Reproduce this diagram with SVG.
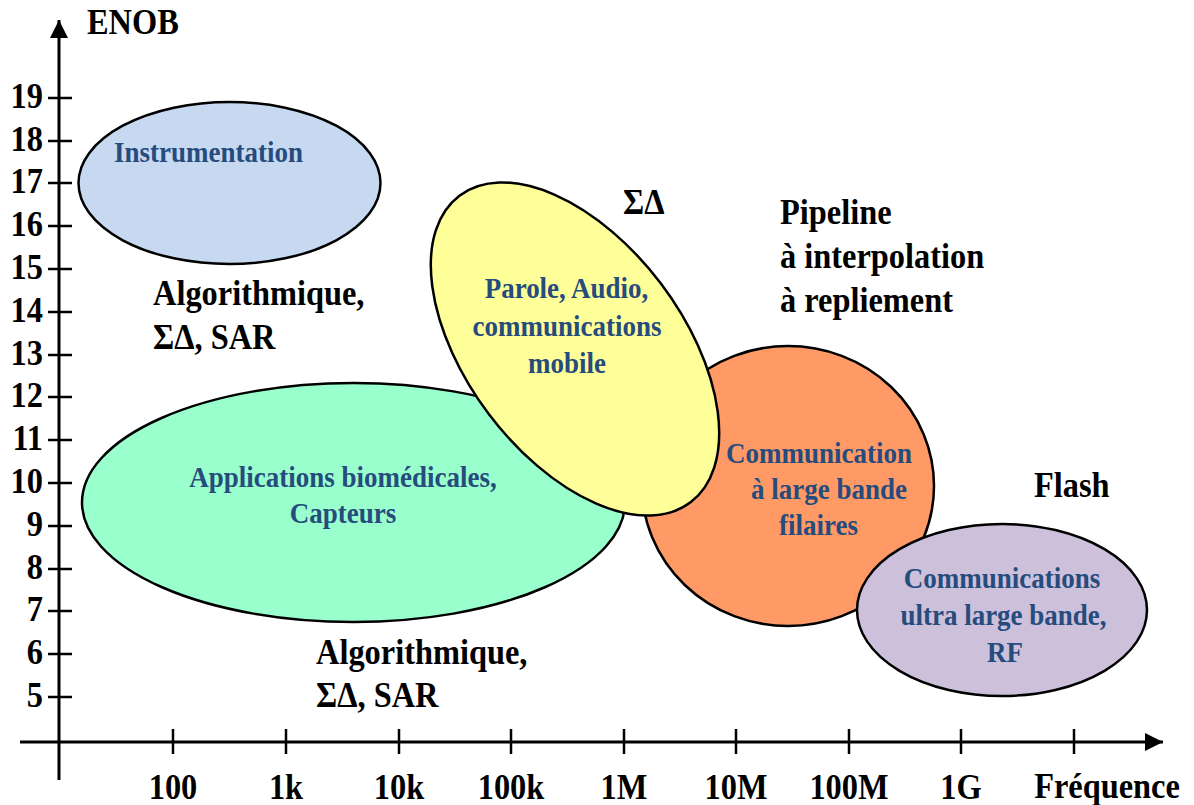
<svg xmlns="http://www.w3.org/2000/svg" width="1194" height="805" viewBox="0 0 1194 805">
  <style>
    text { font-family: "Liberation Serif", "Times New Roman", serif; font-weight: bold; }
    .lbl { font-size: 36px; fill: #000; }
    .num { font-size: 36px; fill: #000; text-anchor: end; }
    .xnum { font-size: 36px; fill: #000; text-anchor: middle; }
    .app { font-size: 30px; fill: #264b7d; text-anchor: middle; }
    .shape { stroke: #000; stroke-width: 2.5; }
    .axis { stroke: #000; stroke-width: 3; fill: none; }
    .tick { stroke: #000; stroke-width: 2.5; }
  </style>
  <defs>
    <marker id="arrow" viewBox="0 0 10 10" refX="10" refY="5" markerWidth="6" markerHeight="6" markerUnits="strokeWidth" orient="auto">
      <path d="M0,0 L10,5 L0,10 z" fill="#000"/>
    </marker>
  </defs>
  <rect width="1194" height="805" fill="#fff"/>

  <!-- axes, ticks and scale labels -->
  <g id="axes">
    <line class="axis" x1="59" y1="780" x2="59" y2="20" marker-end="url(#arrow)"/>
    <line class="axis" x1="20" y1="742" x2="1163" y2="742" marker-end="url(#arrow)"/>
    <g class="tick">
      <line x1="48" y1="98" x2="72" y2="98"/>
      <line x1="48" y1="141" x2="72" y2="141"/>
      <line x1="48" y1="183" x2="72" y2="183"/>
      <line x1="48" y1="226" x2="72" y2="226"/>
      <line x1="48" y1="269" x2="72" y2="269"/>
      <line x1="48" y1="312" x2="72" y2="312"/>
      <line x1="48" y1="355" x2="72" y2="355"/>
      <line x1="48" y1="397" x2="72" y2="397"/>
      <line x1="48" y1="440" x2="72" y2="440"/>
      <line x1="48" y1="483" x2="72" y2="483"/>
      <line x1="48" y1="526" x2="72" y2="526"/>
      <line x1="48" y1="569" x2="72" y2="569"/>
      <line x1="48" y1="611" x2="72" y2="611"/>
      <line x1="48" y1="654" x2="72" y2="654"/>
      <line x1="48" y1="697" x2="72" y2="697"/>
      <line x1="173" y1="729" x2="173" y2="754"/>
      <line x1="286" y1="729" x2="286" y2="754"/>
      <line x1="399" y1="729" x2="399" y2="754"/>
      <line x1="511" y1="729" x2="511" y2="754"/>
      <line x1="624" y1="729" x2="624" y2="754"/>
      <line x1="736" y1="729" x2="736" y2="754"/>
      <line x1="849" y1="729" x2="849" y2="754"/>
      <line x1="961" y1="729" x2="961" y2="754"/>
      <line x1="1074" y1="729" x2="1074" y2="754"/>
    </g>
    <text class="lbl" transform="translate(87 34) scale(.9 1)">ENOB</text>
    <text class="num" transform="translate(43 108) scale(.9 1)">19</text>
    <text class="num" transform="translate(43 151) scale(.9 1)">18</text>
    <text class="num" transform="translate(43 193) scale(.9 1)">17</text>
    <text class="num" transform="translate(43 236) scale(.9 1)">16</text>
    <text class="num" transform="translate(43 279) scale(.9 1)">15</text>
    <text class="num" transform="translate(43 322) scale(.9 1)">14</text>
    <text class="num" transform="translate(43 365) scale(.9 1)">13</text>
    <text class="num" transform="translate(43 407) scale(.9 1)">12</text>
    <text class="num" transform="translate(43 450) scale(.9 1)">11</text>
    <text class="num" transform="translate(43 493) scale(.9 1)">10</text>
    <text class="num" transform="translate(43 536) scale(.9 1)">9</text>
    <text class="num" transform="translate(43 579) scale(.9 1)">8</text>
    <text class="num" transform="translate(43 621) scale(.9 1)">7</text>
    <text class="num" transform="translate(43 664) scale(.9 1)">6</text>
    <text class="num" transform="translate(43 707) scale(.9 1)">5</text>
    <text class="xnum" transform="translate(173 799) scale(.9 1)">100</text>
    <text class="xnum" transform="translate(286 799) scale(.9 1)">1k</text>
    <text class="xnum" transform="translate(399 799) scale(.9 1)">10k</text>
    <text class="xnum" transform="translate(511 799) scale(.9 1)">100k</text>
    <text class="xnum" transform="translate(624 799) scale(.9 1)">1M</text>
    <text class="xnum" transform="translate(736 799) scale(.9 1)">10M</text>
    <text class="xnum" transform="translate(849 799) scale(.9 1)">100M</text>
    <text class="xnum" transform="translate(961 799) scale(.9 1)">1G</text>
    <text class="xnum" transform="translate(1107 798) scale(.9 1)">Fréquence</text>
  </g>

  <!-- application areas -->
  <g id="instrumentation">
    <ellipse class="shape" cx="229.5" cy="183" rx="151" ry="81" fill="#c6d9f1"/>
    <text class="app" transform="translate(208.5 162) scale(.9 1)">Instrumentation</text>
  </g>
  <g id="biomedical">
    <ellipse class="shape" cx="353.5" cy="502.5" rx="271.5" ry="119.5" fill="#99ffcc"/>
    <text class="app" transform="translate(343 487) scale(.9 1)">Applications biomédicales,</text>
    <text class="app" transform="translate(343 523) scale(.9 1)">Capteurs</text>
  </g>
  <g id="wired-broadband">
    <ellipse class="shape" cx="788" cy="486" rx="146" ry="140" fill="#ff9966"/>
    <text class="app" transform="translate(819 463) scale(.9 1)">Communication</text>
    <text class="app" transform="translate(829 499) scale(.9 1)">à large bande</text>
    <text class="app" transform="translate(818.5 535) scale(.9 1)">filaires</text>
  </g>
  <g id="audio-mobile">
    <ellipse class="shape" cx="0" cy="0" rx="192" ry="108" fill="#ffff99" transform="translate(575 349) rotate(53)"/>
    <text class="app" transform="translate(566.5 298) scale(.9 1)">Parole, Audio,</text>
    <text class="app" transform="translate(567 336) scale(.9 1)">communications</text>
    <text class="app" transform="translate(567 373) scale(.9 1)">mobile</text>
  </g>
  <g id="uwb-rf">
    <ellipse class="shape" cx="1002" cy="610" rx="145" ry="86" fill="#ccc0da"/>
    <text class="app" transform="translate(1002 588) scale(.9 1)">Communications</text>
    <text class="app" transform="translate(1003.5 625) scale(.9 1)">ultra large bande,</text>
    <text class="app" transform="translate(1005 662) scale(.9 1)">RF</text>
  </g>

  <!-- converter architectures -->
  <g id="arch-high-res">
    <text class="lbl" transform="translate(153 305) scale(.9 1)">Algorithmique,</text>
    <text class="lbl" transform="translate(153 349) scale(.9 1)">ΣΔ, SAR</text>
  </g>
  <g id="arch-low-res">
    <text class="lbl" transform="translate(316 664) scale(.9 1)">Algorithmique,</text>
    <text class="lbl" transform="translate(316 707) scale(.9 1)">ΣΔ, SAR</text>
  </g>
  <g id="arch-sigma-delta">
    <text class="lbl" transform="translate(623 214) scale(.9 1)">ΣΔ</text>
  </g>
  <g id="arch-pipeline">
    <text class="lbl" transform="translate(780 224) scale(.9 1)">Pipeline</text>
    <text class="lbl" transform="translate(780 268) scale(.9 1)">à interpolation</text>
    <text class="lbl" transform="translate(780 312) scale(.9 1)">à repliement</text>
  </g>
  <g id="arch-flash">
    <text class="lbl" transform="translate(1034 497) scale(.9 1)">Flash</text>
  </g>
</svg>
